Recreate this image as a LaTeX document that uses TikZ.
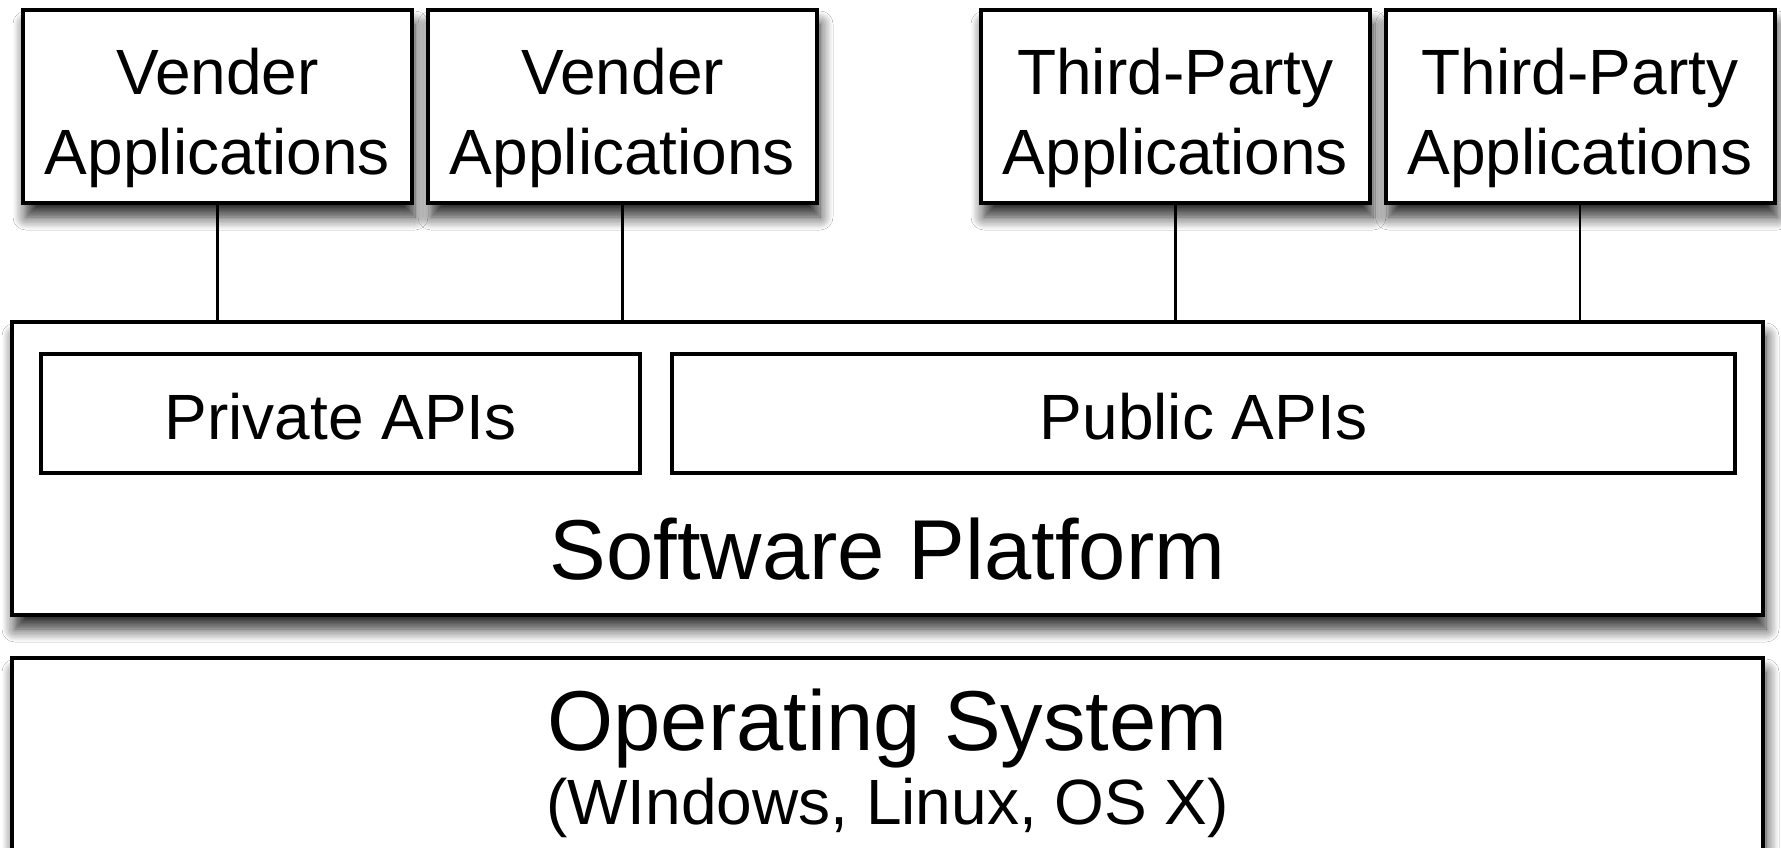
\documentclass[tikz,border=0pt]{standalone}
\usepackage{fontspec}
\setmainfont{Liberation Sans}
\usetikzlibrary{shadows.blur}
\begin{document}
\begin{tikzpicture}[x=1pt,y=-1pt,
  box/.style={draw=black, line width=4pt, fill=white, inner sep=0pt, rectangle},
  softshadow/.style={blur shadow={shadow xshift=3pt, shadow yshift=-14pt, shadow blur radius=13pt, shadow blur steps=10, shadow opacity=85}},
  appbox/.style={box, softshadow, minimum width=389pt, minimum height=193pt},
  layerbox/.style={box, softshadow, minimum width=1751pt},
  apibox/.style={box, line width=3.5pt, minimum height=119pt},
  smalltext/.style={inner sep=0pt, align=center, font=\fontsize{64}{80}\selectfont},
  bigtext/.style={inner sep=0pt, font=\fontsize{85}{100}\selectfont},
  link/.style={draw=black, line width=2.5pt}
]
\clip (0,0) rectangle (1781,848);
\fill[white] (0,0) rectangle (1781,848);

% layers
\node[layerbox, minimum height=293pt] (plat) at (887.5,468.5) {};
\node[layerbox, minimum height=300pt] (os) at (887.5,808) {};

% API boxes
\node[apibox, minimum width=599pt] (priv) at (340.5,413.5) {};
\node[apibox, minimum width=1063pt] (pub) at (1203.5,413.5) {};

% application boxes
\node[appbox] (v1) at (217.5,106.5) {};
\node[appbox] (v2) at (622.5,106.5) {};
\node[appbox] (t1) at (1175.5,106.5) {};
\node[appbox] (t2) at (1580,106.5) {};

% texts
\node[smalltext, anchor=north] (v1t) at (217.5,48) {Vender\\Applications};
\node[smalltext, anchor=north] (v2t) at (622.5,48) {Vender\\Applications};
\node[smalltext, anchor=north] (t1t) at (1175.5,48) {Third-Party\\Applications};
\node[smalltext, anchor=north] (t2t) at (1580,48) {Third-Party\\Applications};
\node[smalltext, anchor=base] (privt) at (340.5,439) {Private APIs};
\node[smalltext, anchor=base] (pubt) at (1203.5,439) {Public APIs};
\node[bigtext, anchor=base] (platt) at (887.5,579) {Software Platform};
\node[bigtext, anchor=base] (ost) at (887.5,750) {Operating System};
\node[smalltext, anchor=base] (osst) at (887.5,824) {(WIndows, Linux, OS X)};

% connectors
\draw[link] (v1.south) -- (v1.south |- plat.north);
\draw[link] (v2.south) -- (v2.south |- plat.north);
\draw[link] (t1.south) -- (t1.south |- plat.north);
\draw[link] (t2.south) -- (t2.south |- plat.north);
\end{tikzpicture}
\end{document}
